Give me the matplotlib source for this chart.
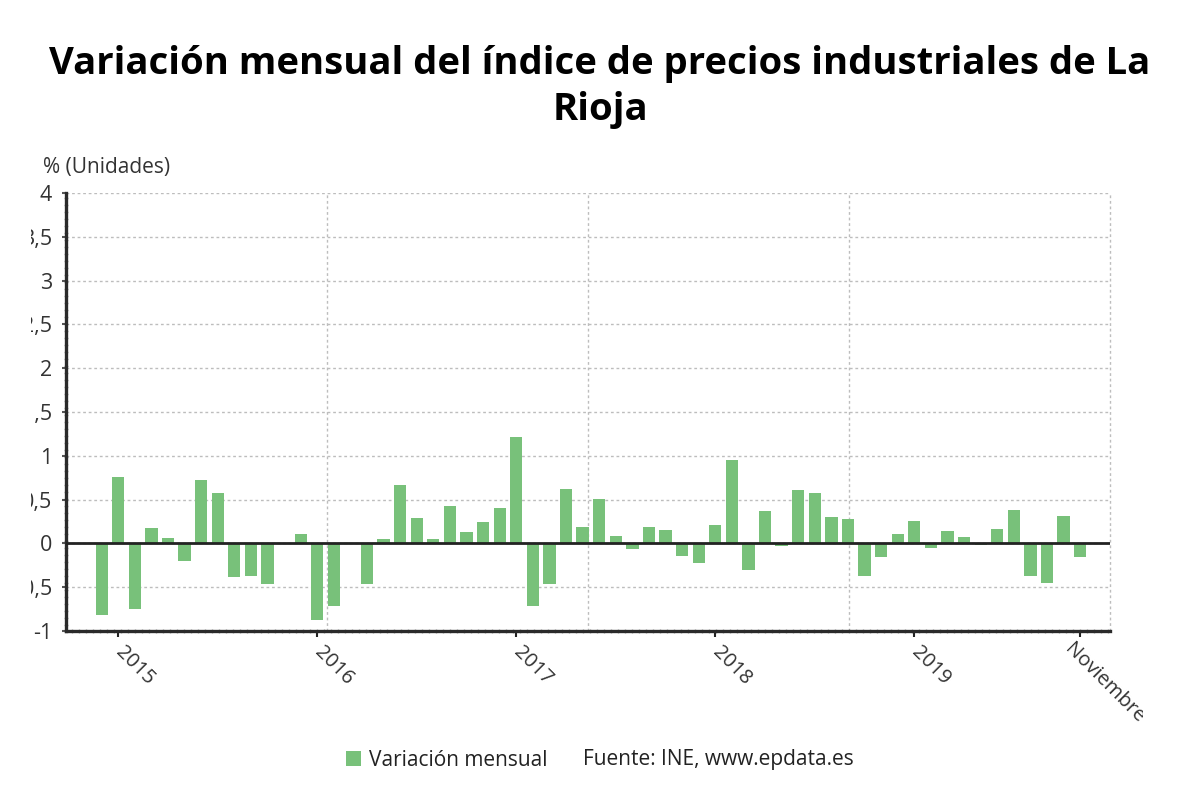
import numpy as np
import pandas as pd
import matplotlib
matplotlib.use("Agg")
import matplotlib.pyplot as plt
from matplotlib.transforms import Bbox, ScaledTranslation

plt.rcParams['font.family'] = ['Open Sans', 'DejaVu Sans']

# Datos: variación mensual (%) de diciembre 2014 a noviembre 2019
meses = pd.date_range("2014-12-01", "2019-11-01", freq="MS").strftime("%Y-%m").tolist()
variacion = [-0.82, 0.76, -0.75, 0.17, 0.065, -0.20, 0.72, 0.57, -0.38, -0.37,
             -0.46, 0.0, 0.11, -0.87, -0.71, 0.0, -0.46, 0.05, 0.67, 0.29,
             0.05, 0.43, 0.125, 0.24, 0.40, 1.21, -0.71, -0.46, 0.62, 0.19,
             0.51, 0.08, -0.06, 0.19, 0.15, -0.145, -0.22, 0.21, 0.955, -0.30,
             0.37, -0.03, 0.61, 0.57, 0.30, 0.28, -0.37, -0.15, 0.11, 0.25,
             -0.05, 0.14, 0.075, -0.015, 0.165, 0.38, -0.37, -0.45, 0.31, -0.16]
ticks_mes = ["2015-01", "2016-01", "2017-01", "2018-01", "2019-01", "2019-11"]
ticks_txt = ["2015", "2016", "2017", "2018", "2019", "Noviembre"]
y_ticks = [-1, -0.5, 0, 0.5, 1, 1.5, 2, 2.5, 3, 3.5, 4]

verde = "#78c17a"
gris = "#333333"

fig = plt.figure(figsize=(12, 8.08), dpi=100)
ax = fig.add_axes([0.055, 0.2191, 0.87, 0.5421])

x = np.arange(len(meses))
ax.bar(x, variacion, width=0.74, color=verde, zorder=3, label="Variación mensual")

xmin, xmax = -2.15, 60.8
ax.set_xlim(xmin, xmax)
ax.set_ylim(-1, 4)

# rejilla
ax.set_yticks(y_ticks)
ax.set_yticklabels([("%g" % v).replace(".", ",") for v in y_ticks])
ax.yaxis.grid(True, color="#bdbdbd", linestyle=(0, (2, 2)), linewidth=1, zorder=0)
for f in [0.25, 0.5, 0.75, 1.0]:
    ax.plot([f, f], [0, 1], transform=ax.transAxes, color="#bdbdbd",
            linestyle=(0, (2, 2)), linewidth=1, zorder=0, clip_on=False)
ax.axhline(0, color="#222222", linewidth=2, zorder=4)

ax.set_xticks([meses.index(m) for m in ticks_mes])
ax.set_xticklabels(ticks_txt, rotation=-45, ha="left", va="center",
                   rotation_mode="anchor")

for s in ["top", "right"]:
    ax.spines[s].set_visible(False)
for s in ["left", "bottom"]:
    ax.spines[s].set_color("#2a2a2a")
    ax.spines[s].set_linewidth(2.4)
    ax.spines[s].set_linestyle((0, (1.5, 0.6)))

ax.tick_params(axis="x", length=4, width=1.5, color="#222222", pad=9,
               labelsize=14.5, labelcolor=gris)
ax.tick_params(axis="y", length=3, width=1.5, color="#555555", pad=7,
               labelsize=15.5, labelcolor=gris)

fig.text(43 / 1200, 1 - 168 / 808, "% (Unidades)", fontsize=15, color=gris,
         ha="left", va="center")

fig.text(0.5, 1 - 87 / 808,
         "Variación mensual del índice de precios industriales de La\nRioja",
         fontsize=27.5, fontweight="bold", color="black", ha="center",
         va="center", linespacing=1.26)

fig.legend(loc="center left", bbox_to_anchor=(338 / 1200, 1 - 760 / 808),
           frameon=False, fontsize=15, handlelength=0.7, handleheight=0.7,
           handletextpad=0.4, labelcolor="#222222", borderaxespad=0)
fig.text(583 / 1200, 1 - 760 / 808, "Fuente: INE, www.epdata.es", fontsize=15,
         color="#222222", ha="left", va="center")

# recorte de etiquetas como en el original
fig.canvas.draw()
for lbl in ax.get_yticklabels():
    lbl.set_clip_box(Bbox.from_extents(31, 0, 1200, 808))
    lbl.set_clip_on(True)
xlbls = ax.get_xticklabels()
for lbl in xlbls:
    lbl.set_clip_box(Bbox.from_extents(0, 0, 1143, 808))
    lbl.set_clip_on(True)
# la última etiqueta va algo más a la izquierda
xlbls[-1].set_transform(xlbls[-1].get_transform()
                        + ScaledTranslation(-0.13, 0.03, fig.dpi_scale_trans))

fig.savefig("out.png", dpi=100, facecolor="white")
